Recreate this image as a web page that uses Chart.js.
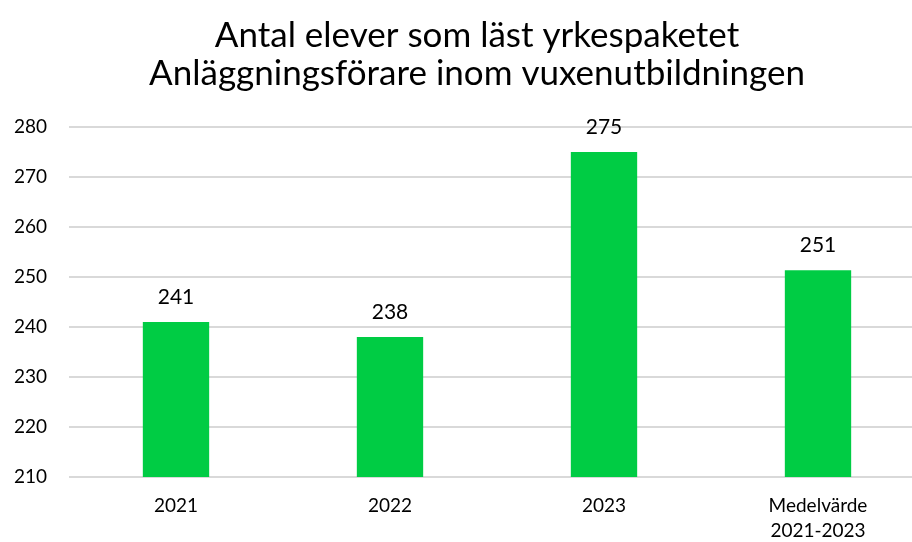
<!DOCTYPE html>
<html>
<head>
<meta charset="utf-8">
<script src="https://cdn.jsdelivr.net/npm/chart.js@4"></script>
<style>
  html, body { margin: 0; padding: 0; overflow: hidden; background: #fff; }
  #wrap { width: 926px; height: 542px; }
</style>
</head>
<body>
<div id="wrap"><canvas id="elevChart"></canvas></div>
<script>
var titleLines = ['Antal elever som läst yrkespaketet', 'Anläggningsförare inom vuxenutbildningen'];
var categories = ['2021', '2022', '2023', ['Medelvärde', '2021-2023']];
var elever = [241, 238, 275, 251.33];
var yTicks = [210, 220, 230, 240, 250, 260, 270, 280];

var fontFamily = 'Lato, "Open Sans", sans-serif';

var titlePlugin = {
    id: 'titleText',
    afterDraw: function(chart) {
        var c = chart.ctx;
        c.save();
        c.fillStyle = '#000';
        c.font = '35px ' + fontFamily;
        c.textAlign = 'center';
        c.textBaseline = 'middle';
        c.fillText(titleLines[0], 477, 36);
        c.fillText(titleLines[1], 477, 74);
        c.restore();
    }
};

var valueLabels = {
    id: 'valueLabels',
    afterDatasetsDraw: function(chart) {
        var c = chart.ctx;
        var meta = chart.getDatasetMeta(0);
        c.save();
        c.fillStyle = '#000';
        c.font = '21px ' + fontFamily;
        c.textAlign = 'center';
        c.textBaseline = 'middle';
        meta.data.forEach(function(bar, i) {
            c.fillText(Math.round(elever[i]), bar.x, bar.y - 25);
        });
        c.restore();
    }
};

document.addEventListener('DOMContentLoaded', function() {
    var ctx = document.getElementById('elevChart').getContext('2d');
    new Chart(ctx, {
        type: 'bar',
        data: {
            labels: categories,
            datasets: [{
                data: elever,
                backgroundColor: '#00CC44',
                borderWidth: 0,
                barPercentage: 0.31,
                categoryPercentage: 1
            }]
        },
        options: {
            responsive: true,
            maintainAspectRatio: false,
            animation: false,
            layout: { padding: { top: 127, right: 1, left: 0, bottom: 2 } },
            plugins: {
                legend: { display: false },
                title: { display: false },
                tooltip: { enabled: false }
            },
            scales: {
                x: {
                    afterFit: function(scale) { scale.height = 63; },
                    grid: { display: false, drawTicks: false },
                    border: { display: false },
                    ticks: {
                        color: '#000',
                        padding: 17,
                        font: { family: fontFamily, size: 19, lineHeight: 1.3 },
                        maxRotation: 0
                    }
                },
                y: {
                    min: 210,
                    max: 280,
                    afterFit: function(scale) { scale.width = 69; },
                    afterBuildTicks: function(scale) {
                        scale.ticks = yTicks.map(function(v) { return { value: v }; });
                    },
                    grid: { color: '#D9D9D9', lineWidth: 2, drawTicks: false },
                    border: { display: false },
                    ticks: {
                        color: '#000',
                        padding: 22,
                        font: { family: fontFamily, size: 19 }
                    }
                }
            }
        },
        plugins: [titlePlugin, valueLabels]
    });
});
</script>
</body>
</html>
